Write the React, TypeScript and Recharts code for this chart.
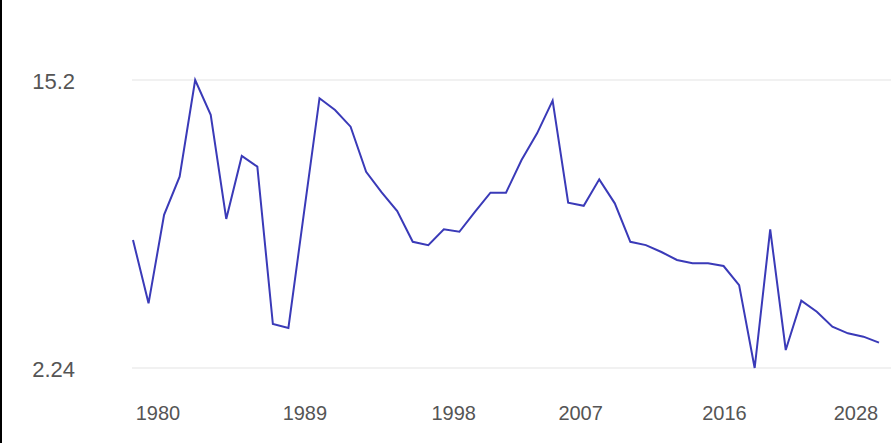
import React from 'react';
import { LineChart, Line, XAxis, YAxis, CartesianGrid } from 'recharts';

const years = Array.from({ length: 49 }, (_, i) => 1980 + i);

const values = [
  8.0, 5.15, 9.13, 10.85, 15.2, 13.63, 8.95, 11.78, 11.3, 4.22,
  4.04, 9.22, 14.38, 13.85, 13.1, 11.07, 10.14, 9.3, 7.92, 7.77,
  8.48, 8.37, 9.27, 10.13, 10.13, 11.6, 12.8, 14.27, 9.68, 9.54,
  10.73, 9.65, 7.92, 7.77, 7.46, 7.1, 6.95, 6.95, 6.83, 5.97,
  2.24, 8.48, 3.05, 5.27, 4.77, 4.1, 3.8, 3.65, 3.38,
];

const xTicks = [1980, 1989, 1998, 2007, 2016, 2028];
const yTicks = [2.24, 15.2];

// label nudges, the source image has its year labels a bit off the points
const labelShift: Record<number, number> = {
  1980: 25, 1989: 32, 1998: 41, 2007: 28, 2016: 32, 2028: -23,
};

const data = years.map((year, i) => ({ year, value: values[i] }));

const FONT = 'Liberation Sans, Arial, sans-serif';

function YearTick(props: any) {
  const { x, y, payload } = props;
  return (
    <text
      x={x + (labelShift[payload.value] ?? 0)} y={y} dy="0.71em"
      textAnchor="middle" fontSize={20} fill="#555" fontFamily={FONT}
    >
      {payload.value}
    </text>
  );
}

function ValueTick(props: any) {
  const { x, y, payload } = props;
  return (
    <text
      x={x} y={y} dy="0.4em" textAnchor="end"
      fontSize={22} fill="#555" fontFamily={FONT}
    >
      {payload.value}
    </text>
  );
}

export default function App() {
  return (
    <div style={{
      position: 'absolute', left: 0, top: 0, width: 891, height: 443,
      background: '#fff', borderLeft: '2px solid #000', boxSizing: 'border-box',
    }}>
      <LineChart
        width={889} height={443} data={data}
        margin={{ top: 80, right: 0, left: 0, bottom: 0 }}
      >
        <CartesianGrid vertical={false} stroke="#ececec" strokeWidth={1.5} />
        <XAxis
          dataKey="year" type="number" domain={[1980, 2028]} ticks={xTicks}
          padding={{ left: 1, right: 12 }}
          axisLine={false} tickLine={false} tickSize={0} tickMargin={38}
          height={75} tick={<YearTick />} interval={0}
        />
        <YAxis
          domain={[2.24, 15.2]} ticks={yTicks} width={130}
          axisLine={false} tickLine={false} tickSize={0} tickMargin={57}
          tick={<ValueTick />}
        />
        <Line
          type="linear" dataKey="value" stroke="#3a3ab8" strokeWidth={2}
          dot={false} isAnimationActive={false}
        />
      </LineChart>
    </div>
  );
}
